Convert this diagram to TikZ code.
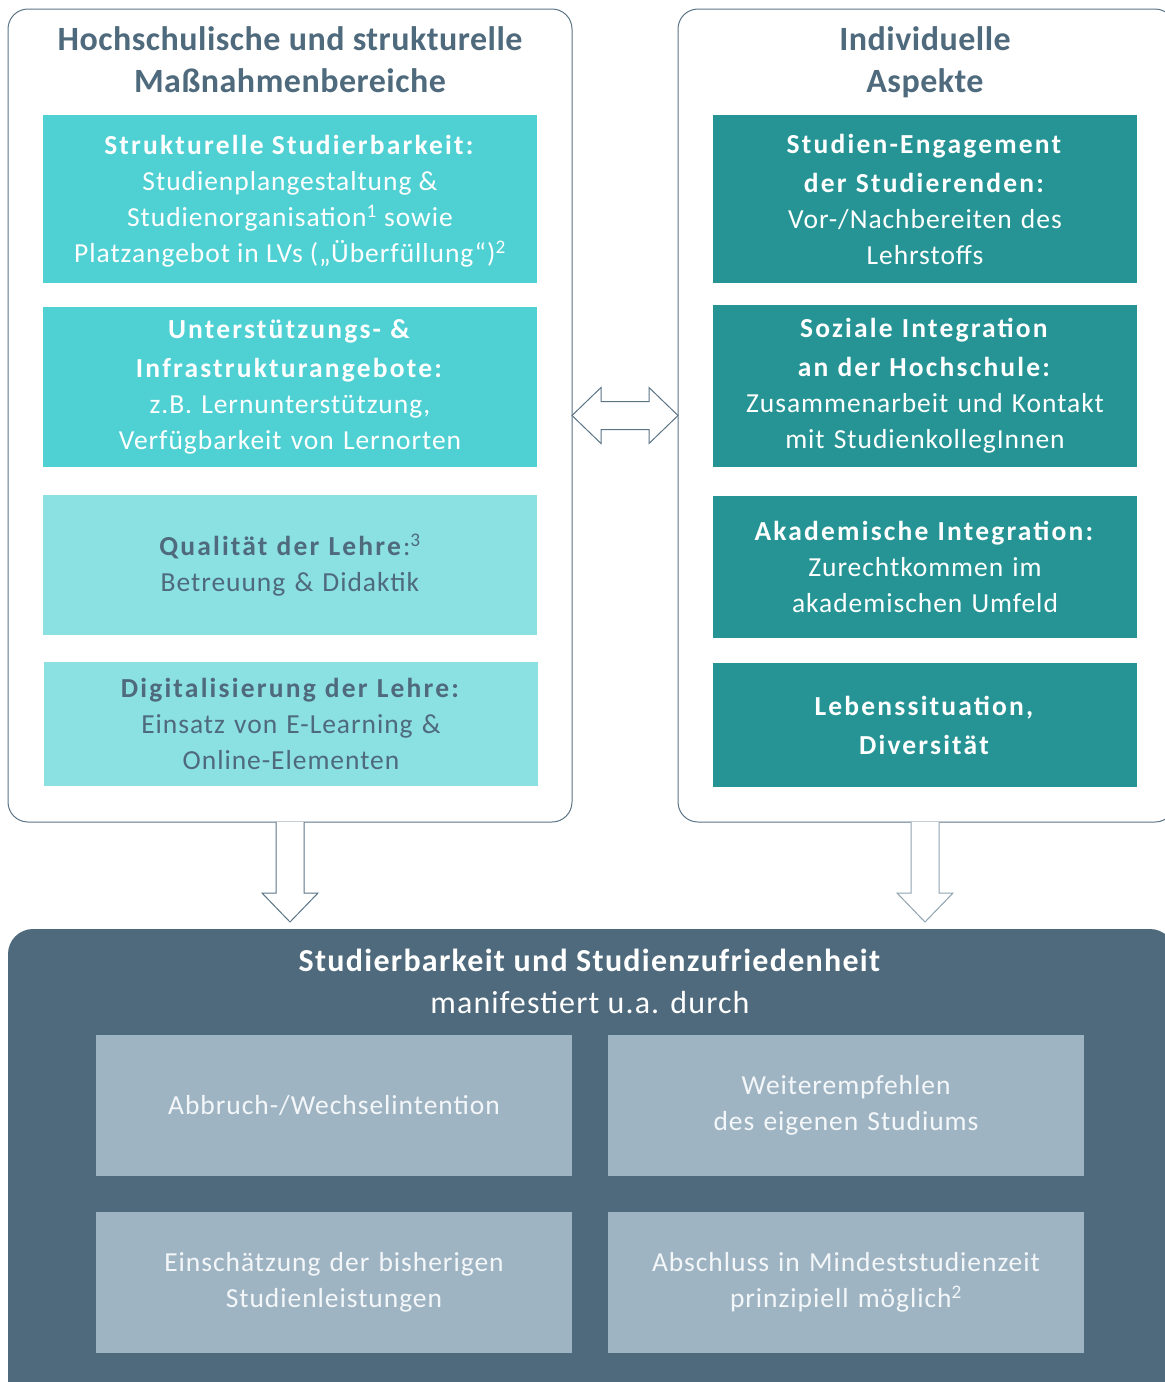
\documentclass[tikz,border=0pt]{standalone}
\usepackage{fontspec}
\setmainfont{Carlito}
\newfontfamily\boxfont{Carlito}[LetterSpace=3.5,BoldFeatures={LetterSpace=8}]
\newfontfamily\titlefont{Carlito}[LetterSpace=1.5]
\newfontfamily\bottomfont{Carlito}[LetterSpace=3.5,BoldFeatures={LetterSpace=4}]
\usetikzlibrary{calc}
\definecolor{slate}{HTML}{4E6A7C}
\definecolor{lineslate}{HTML}{5B7486}
\definecolor{arrowlight}{HTML}{8FA3B1}
\definecolor{tealA}{HTML}{4FD0D3}
\definecolor{tealB}{HTML}{8BE0E2}
\definecolor{tealC}{HTML}{269494}
\definecolor{grayblue}{HTML}{9FB4C2}
\definecolor{paletext}{HTML}{F4F7F9}
\begin{document}
\begin{tikzpicture}[x=1pt,y=-1pt,
  outerbox/.style={draw=lineslate,line width=1pt,rounded corners=20pt,fill=white,anchor=north west,inner sep=0pt,outer sep=0pt},
  titletext/.style={text=slate,font=\titlefont\fontsize{34}{42}\selectfont\bfseries,align=center,anchor=center},
  lbox/.style={fill=tealA,text=white,anchor=north west,inner sep=0pt,outer sep=0pt,minimum width=494pt,align=center,text width=490pt,font=\boxfont\fontsize{27.5}{36}\selectfont},
  lbox2/.style={lbox,fill=tealB,text=slate},
  rbox/.style={fill=tealC,text=white,anchor=north west,inner sep=0pt,outer sep=0pt,minimum width=424pt,align=center,text width=420pt,font=\boxfont\fontsize{27.5}{36}\selectfont},
  gbox/.style={fill=grayblue,text=paletext,anchor=north west,inner sep=0pt,outer sep=0pt,minimum width=476pt,minimum height=141pt,align=center,text width=470pt,font=\boxfont\fontsize{27.5}{36}\selectfont},
  blockarrow/.style={draw=lineslate,line width=1pt,fill=white,line join=miter}
]
\useasboundingbox (0,0) rectangle (1165,1382);
\clip (0,0) rectangle (1165,1382);

% outer frames
\node[outerbox,minimum width=564pt,minimum height=813pt] (lo) at (8,9) {};
\node[outerbox,minimum width=497pt,minimum height=813pt] (ro) at (678,9) {};

\node[titletext] (lt) at (290,60) {Hochschulische und strukturelle\\Maßnahmenbereiche};
\node[titletext] (rt) at (925,62) {Individuelle\\Aspekte};

% left boxes
\node[lbox,minimum height=168pt] (l1) at (43,115) {};
\node[anchor=center,text=white,align=center,font=\boxfont\fontsize{27.5}{36}\selectfont] (l1t) at ($(l1.center)+(0,2)$) {\textbf{Strukturelle Studierbarkeit:}\\Studienplangestaltung \&\\Studienorganisation\textsuperscript{1} sowie\\Platzangebot in LVs („Überfüllung“)\textsuperscript{2}};
\node[lbox,minimum height=160pt] (l2) at (43,307) {\textbf{Unterstützungs- \&}\\[3pt]\textbf{Infrastrukturangebote:}\\z.B. Lernunterstützung,\\Verfügbarkeit von Lernorten};
\node[lbox2,minimum height=140pt] (l3) at (43,495) {\textbf{Qualität der Lehre}:\textsuperscript{3}\\Betreuung \& Didaktik};
\node[lbox2,minimum height=124pt] (l4) at (44,662) {\textbf{Digitalisierung der Lehre:}\\Einsatz von E-Learning \&\\Online-Elementen};

% right boxes
\node[rbox,minimum height=168pt] (r1) at (713,115) {\textbf{Studien-Engagement}\\[3pt]\textbf{der Studierenden:}\\Vor-/Nachbereiten des\\Lehrstoffs};
\node[rbox,minimum height=162pt] (r2) at (713,305) {\textbf{Soziale Integration}\\[3pt]\textbf{an der Hochschule:}\\Zusammenarbeit und Kontakt\\mit StudienkollegInnen};
\node[rbox,minimum height=142pt] (r3) at (713,496) {\textbf{Akademische Integration:}\\Zurechtkommen im\\akademischen Umfeld};
\node[rbox,minimum height=124pt] (r4) at (713,663) {\textbf{Lebenssituation,}\\[3pt]\textbf{Diversität}};

% bottom block
\node[fill=slate,rounded corners=25pt,anchor=north west,inner sep=0pt,outer sep=0pt,minimum width=1167pt,minimum height=480pt] (bb) at (8,929) {};
\node[text=white,align=center,font=\bottomfont\fontsize{32}{42}\selectfont] (bt) at (590,981) {\textbf{Studierbarkeit und Studienzufriedenheit}\\manifestiert u.a. durch};

\node[gbox] (g1) at (96,1035) {Abbruch-/Wechselintention};
\node[gbox] (g2) at (608,1035) {Weiterempfehlen\\des eigenen Studiums};
\node[gbox] (g3) at (96,1212) {Einschätzung der bisherigen\\Studienleistungen};
\node[gbox] (g4) at (608,1212) {Abschluss in Mindeststudienzeit\\prinzipiell möglich\textsuperscript{2}};

% double arrow between frames
\draw[blockarrow] (lo.east) -- ++(29,-28) -- ++(0,14) -- ++(48,0) -- ++(0,-14) -- (ro.west)
  -- ++(-29,28) -- ++(0,-14) -- ++(-48,0) -- ++(0,14) -- cycle;

% down arrows
\draw[blockarrow] ($(lo.south)+(-14,0)$) -- ++(0,71) -- ++(-14,0) -- ($(lo.south)+(0,100)$) coordinate (tipL)
  -- ++(28,-29) -- ++(-14,0) -- ($(lo.south)+(14,0)$);
\draw[blockarrow,draw=arrowlight] ($(ro.south)+(-15.5,0)$) -- ++(0,71) -- ++(-14,0) -- ($(ro.south)+(-1.5,100)$) coordinate (tipR)
  -- ++(28,-29) -- ++(-14,0) -- ($(ro.south)+(12.5,0)$);
\end{tikzpicture}
\end{document}
